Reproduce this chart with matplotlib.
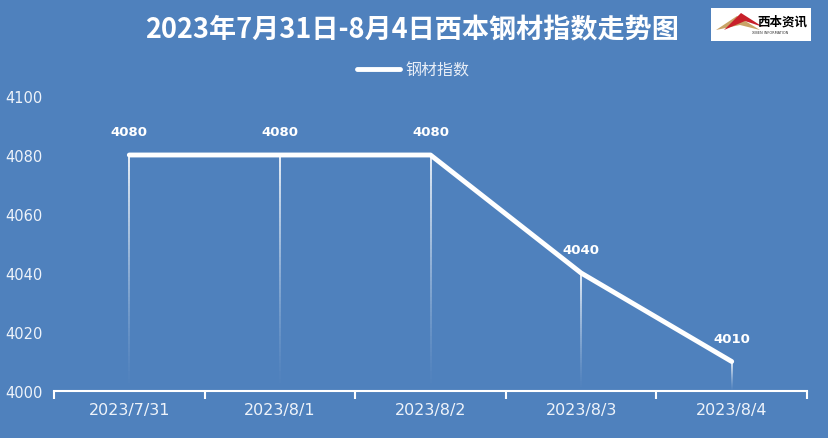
import matplotlib
matplotlib.use("Agg")
import matplotlib.pyplot as plt
import numpy as np
from matplotlib.collections import LineCollection
from matplotlib.patches import Rectangle, Polygon

plt.rcParams['font.family'] = ['Noto Sans CJK SC', 'DejaVu Sans']

categories = ["2023/7/31", "2023/8/1", "2023/8/2", "2023/8/3", "2023/8/4"]
values = [4080, 4080, 4080, 4040, 4010]
series_name = "钢材指数"
title = "2023年7月31日-8月4日西本钢材指数走势图"
yticks = [4000, 4020, 4040, 4060, 4080, 4100]

bg = "#4f81bd"
fig = plt.figure(figsize=(8.29, 4.39), dpi=100, facecolor=bg)
ax = fig.add_axes([54/829, 47/439, 753/829, 295/439], facecolor=bg)

x = np.arange(len(categories))
ax.set_xlim(-0.5, len(categories) - 0.5)
ax.set_ylim(4000, 4100)

# drop lines with fading gradient
for xi, v in zip(x, values):
    n = 60
    ys = np.linspace(4000, v, n + 1)
    segs = [[(xi, ys[i]), (xi, ys[i + 1])] for i in range(n)]
    alphas = np.linspace(0.0, 0.95, n) ** 1.3
    cols = [(1, 1, 1, a) for a in alphas]
    ax.add_collection(LineCollection(segs, colors=cols, linewidths=1.3, zorder=2))

line, = ax.plot(x, values, color="white", lw=3.5, solid_capstyle="round",
                solid_joinstyle="round", zorder=3, label=series_name)

for xi, v in zip(x, values):
    ax.annotate(str(v), (xi, v), xytext=(0, 12), textcoords="offset points",
                ha="center", va="bottom", color="white", fontsize=9.5,
                fontweight="bold", family=["DejaVu Sans"])

for s in ["top", "right", "left"]:
    ax.spines[s].set_visible(False)
ax.spines["bottom"].set_color("white")
ax.spines["bottom"].set_linewidth(1.5)

ax.set_yticks(yticks)
ax.set_yticklabels([str(t) for t in yticks], color="#eef3fa", fontsize=10.5,
                   family=["DejaVu Sans"])
ax.tick_params(axis="y", length=0, pad=8)

ax.set_xticks(x)
ax.set_xticklabels(categories, color="#eef3fa", fontsize=11.5, family=["DejaVu Sans"])
ax.tick_params(axis="x", length=0, pad=8)
ax.set_xticks(np.arange(-0.5, len(categories)), minor=True)
ax.tick_params(axis="x", which="minor", length=6, width=1.5, color="white", direction="out")

fig.text(412/829, 1 - 30/439, title, ha="center", va="center", color="white",
         fontsize=19.5, fontweight="bold")

leg = fig.legend(handles=[line], loc="center", bbox_to_anchor=(413/829, 1 - 71/439),
                 frameon=False, fontsize=11.5, handlelength=2.7, handletextpad=0.35,
                 labelcolor="#e8eef7")

# logo
fig.patches.append(Rectangle((711/829, 1 - 42/439), 100/829, 33/439,
                             transform=fig.transFigure, facecolor="white",
                             edgecolor="none", zorder=5))
def fp(px, py):
    return (px / 829, 1 - py / 439)
fig.patches.append(Polygon([fp(716, 31), fp(737, 17), fp(760, 31), fp(740, 26)],
                           closed=True, transform=fig.transFigure,
                           facecolor="#c9a467", edgecolor="none", zorder=6))
fig.patches.append(Polygon([fp(724, 31), fp(741, 14), fp(763, 28), fp(745, 22)],
                           closed=True, transform=fig.transFigure,
                           facecolor="#c8202a", edgecolor="none", zorder=7))
fig.text(782/829, 1 - 22/439, "西本资讯", ha="center", va="center", fontsize=9,
         fontweight="bold", color="black", zorder=8)
fig.text(770/829, 1 - 33/439, "XIBEN INFORMATION", ha="center", va="center",
         fontsize=2.5, color="#333333", zorder=8, family=["DejaVu Sans"])

fig.savefig("out.png", dpi=100, facecolor=bg)
